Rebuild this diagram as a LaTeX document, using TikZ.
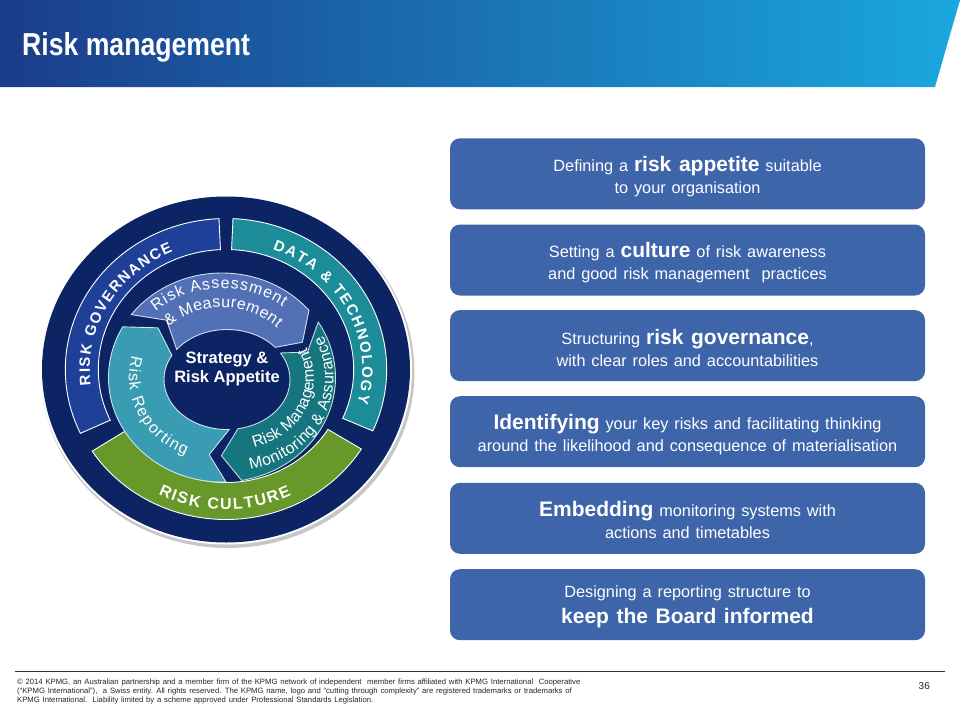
\documentclass[tikz,border=0pt]{standalone}
\usepackage{fontspec}
\setmainfont{Liberation Sans}
\newfontfamily\titlefont[FakeStretch=0.84]{Liberation Sans}
\newfontfamily\boxfont[WordSpace=1.8]{Liberation Sans}
\newfontfamily\footfont[WordSpace=1.3]{Liberation Sans}
\usetikzlibrary{decorations.text}
\definecolor{hdrL}{RGB}{27,60,138}
\definecolor{hdrR}{RGB}{26,168,222}
\definecolor{navy}{RGB}{12,36,100}
\definecolor{govcol}{RGB}{30,64,152}
\definecolor{datacol}{RGB}{28,140,152}
\definecolor{cultcol}{RGB}{104,152,42}
\definecolor{assesscol}{RGB}{82,112,182}
\definecolor{mgmtcol}{RGB}{22,118,128}
\definecolor{reportcol}{RGB}{58,156,178}
\definecolor{boxcol}{RGB}{62,100,170}
\newcommand{\myfs}[1]{\fontsize{#1}{#1}\selectfont}
\newcommand{\bandfont}{\fontsize{15}{15}\selectfont\bfseries}
\newcommand{\cultfont}{\fontsize{16}{16}\selectfont\bfseries}
\newcommand{\arrowfont}{\fontsize{16}{16}\selectfont}
\newcommand{\bigb}[1]{{\bfseries\fontsize{21}{22}\selectfont #1}}
\newcommand{\chev}[3]{%
  \pgfmathsetmacro\Th{#2-12}%
  \pgfmathsetmacro\Hh{#3+12}%
  \filldraw[fill=#1, draw=white!75!#1, line width=0.9]
    (#2:113.5 and 104.5) arc[start angle=#2, end angle=\Hh, x radius=113.5, y radius=104.5]
    -- ([shift={(2.5,-1)}]#3:88.25 and 77.25) -- ([shift={(5,-2)}]\Hh:63 and 50)
    arc[start angle=\Hh, end angle=#2, x radius=63, y radius=50]
    -- ([shift={(2.5,-1)}]\Th:88.25 and 77.25) -- cycle;}
\tikzset{
  infobox/.style={fill=boxcol, rounded corners=10pt, minimum width=475pt, minimum height=71pt, inner sep=0pt},
  boxtext/.style={text=white, align=center, font=\boxfont\fontsize{16.3}{22}\selectfont, inner sep=0pt},
  foot/.style={anchor=base west, inner sep=0pt, font=\footfont\myfs{7.7}, text=black!85},
  band/.style={fill=#1, draw=white, line width=0.9},
}
\begin{document}
\begin{tikzpicture}[x=1pt,y=-1pt]
\path[use as bounding box, fill=white] (0,0) rectangle (960,720);
% header
\shade[left color=hdrL, right color=hdrR] (0,0) -- (960,0) -- (935,87) -- (0,87) -- cycle;
\node[anchor=base west, text=white, font=\titlefont\bfseries\myfs{31.7}, inner sep=0pt] (title) at (22,55) {Risk management};

% ===== circle diagram =====
\begin{scope}[shift={(226pt,-369.5pt)}, x=1pt, y=1pt]
  \fill[black!22] (1.5,-2.5) ellipse [x radius=187, y radius=176];
  \fill[white] (0,0) ellipse [x radius=186, y radius=175];
  \fill[navy] (0,0) ellipse [x radius=184, y radius=173];
  % governance band
  \path[band=govcol] (92.5:160.7 and 151) arc[start angle=92.5, end angle=205, x radius=160.7, y radius=151]
     -- (205:127.7 and 120) arc[start angle=205, end angle=92.5, x radius=127.7, y radius=120] -- cycle;
  % data band
  \path[band=datacol] (87.5:160.7 and 151) arc[start angle=87.5, end angle=-24, x radius=160.7, y radius=151]
     -- (-24:127.7 and 120) arc[start angle=-24, end angle=87.5, x radius=127.7, y radius=120] -- cycle;
  % culture band
  \path[band=cultcol] (213:159.6 and 150) arc[start angle=213, end angle=328, x radius=159.6, y radius=150]
     -- (328:120.2 and 113) arc[start angle=328, end angle=213, x radius=120.2, y radius=113] -- cycle;
  % band labels
  \path[decorate, decoration={text along path, text={|\bandfont|RISK GOVERNANCE}, text align=fit to path, text color=white}]
     (187:136.2 and 128) arc[start angle=187, end angle=113, x radius=136.2, y radius=128];
  \path[decorate, decoration={text along path, text={|\bandfont|DATA {\&} TECHNOLOGY}, text align=fit to path, text color=white}]
     (70:136.2 and 128) arc[start angle=70, end angle=-15, x radius=136.2, y radius=128];
  \path[decorate, decoration={text along path, text={|\cultfont|RISK CULTURE}, text align=fit to path, text color=white}]
     (243:149 and 140) arc[start angle=243, end angle=296, x radius=149, y radius=140];
\end{scope}

\begin{scope}[shift={(222pt,-377.5pt)}, x=1pt, y=1pt]
  \chev{assesscol}{143}{28}
  \chev{mgmtcol}{32}{-92}
  \chev{reportcol}{272}{139}
  \path[decorate, decoration={text along path, text={|\arrowfont|Risk Assessment}, text align=fit to path, text color=white}]
     (132:99 and 89) arc[start angle=132, end angle=52, x radius=99, y radius=89];
  \path[decorate, decoration={text along path, text={|\arrowfont|{\&} Measurement}, text align=fit to path, text color=white}]
     (133:78 and 70) arc[start angle=133, end angle=45, x radius=78, y radius=70];
  \path[decorate, decoration={text along path, text={|\arrowfont|Risk Reporting}, text align=fit to path, text color=white}]
     (165:93 and 84.5) arc[start angle=165, end angle=247, x radius=93, y radius=84.5];
\end{scope}
\begin{scope}[shift={(233pt,-378pt)}, x=1pt, y=1pt]
  \path[decorate, decoration={text along path, text={|\arrowfont|Risk Management}, text align=fit to path, text color=white}]
     (-75:81 and 72) arc[start angle=-75, end angle=25, x radius=81, y radius=72];
  \path[decorate, decoration={text along path, text={|\arrowfont|Monitoring {\&} Assurance}, text align=fit to path, text color=white}]
     (-80:100.5 and 93) arc[start angle=-80, end angle=27, x radius=100.5, y radius=93];
\end{scope}

\node[text=white, align=center, font=\bfseries\fontsize{16.5}{18.5}\selectfont, inner sep=0pt] (centre) at (227,369) {Strategy \&\\Risk Appetite};

% ===== right boxes =====
\node[infobox] (b1) at (687.5,173.8) {};
\node[infobox] (b2) at (687.5,260) {};
\node[infobox] (b3) at (687.5,345.6) {};
\node[infobox] (b4) at (687.5,431.7) {};
\node[infobox] (b5) at (687.5,518.3) {};
\node[infobox] (b6) at (687.5,604.7) {};
\node[boxtext] (t1) at ([yshift=-2.5pt]b1.center) {Defining a \bigb{risk appetite} suitable\\to your organisation};
\node[boxtext] (t2) at ([yshift=-2.5pt]b2.center) {Setting a \bigb{culture} of risk awareness\\and good risk management\ \ practices};
\node[boxtext] (t3) at ([yshift=-2.5pt]b3.center) {Structuring \bigb{risk governance},\\with clear roles and accountabilities};
\node[boxtext] (t4) at ([yshift=-2.5pt]b4.center) {\bigb{Identifying} your key risks and facilitating thinking\\around the likelihood and consequence of materialisation};
\node[boxtext] (t5) at ([yshift=-2pt]b5.center) {\bigb{Embedding} monitoring systems with\\actions and timetables};
\node[boxtext] (t6) at ([yshift=-2pt]b6.center) {Designing a reporting structure to\\[4pt]\bigb{keep the Board informed}};

% ===== footer =====
\coordinate (fl) at (15,671);
\coordinate (fr) at (945,671);
\draw[black!80, line width=0.8] (fl) -- (fr);
\node[foot] (f1) at (17,684) {© 2014 KPMG, an Australian partnership and a member firm of the KPMG network of independent\ \ member firms affiliated with KPMG International\ \ Cooperative};
\node[foot] (f2) at (17,693) {(“KPMG International”),\ \ a Swiss entity. All rights reserved. The KPMG name, logo and “cutting through complexity” are registered trademarks or trademarks of};
\node[foot] (f3) at (17,702) {KPMG International.\ \ Liability limited by a scheme approved under Professional Standards Legislation.};
\node[anchor=base east, inner sep=0pt, font=\myfs{10}, text=black!85] (pg) at (930,689) {36};
\end{tikzpicture}
\end{document}
